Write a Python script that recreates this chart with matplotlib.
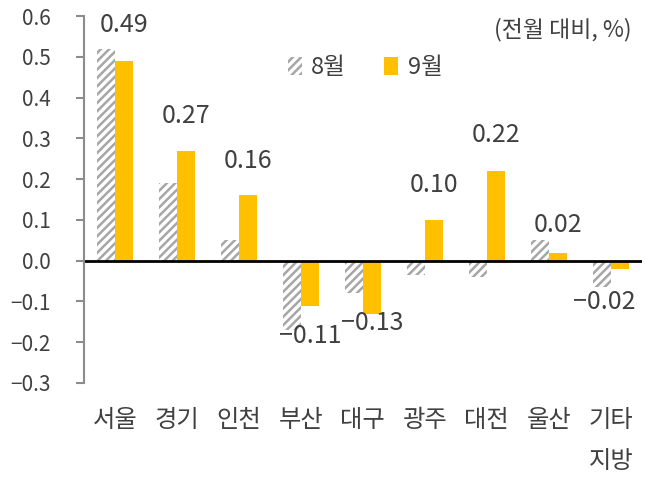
import numpy as np
import matplotlib
matplotlib.use("Agg")
import matplotlib.pyplot as plt
from matplotlib.ticker import FuncFormatter, MultipleLocator

plt.rcParams["font.family"] = ["Noto Sans CJK KR", "DejaVu Sans"]
plt.rcParams["hatch.linewidth"] = 1.8

regions = ["서울", "경기", "인천", "부산", "대구", "광주", "대전", "울산", "기타\n지방"]
aug = [0.52, 0.19, 0.05, -0.17, -0.08, -0.035, -0.04, 0.05, -0.065]
sep = [0.49, 0.27, 0.16, -0.11, -0.13, 0.10, 0.22, 0.02, -0.02]
# label offsets in points (dx, dy)
label_dx = [0, 0, 0, 0, 0, 0, 0, 0, -11]
label_dy = [26, 25, 25, -22, -7, 25, 26, 20, -24]

GRAY, GOLD, TXT = "#a6a6a6", "#ffc000", "#404040"


def fmt(v, nd):
    return f"{v:.{nd}f}".replace("-", "\u2212")


fig = plt.figure(figsize=(6.45, 4.84), dpi=100)
ax = fig.add_axes([0.130, 0.2087, 0.865, 0.758])

x = np.arange(len(regions))
w = 0.29
ax.bar(x - w / 2, aug, w, color="white", edgecolor=GRAY, hatch="////", linewidth=0, label="8월")
ax.bar(x + w / 2, sep, w, color=GOLD, linewidth=0, label="9월")

for xi, v, dx, dy in zip(x, sep, label_dx, label_dy):
    ax.annotate(fmt(v, 2), (xi + w / 2, v), xytext=(dx, dy), textcoords="offset points",
                ha="center", va="center", fontsize=18, color=TXT)

ax.axhline(0, color="black", lw=2)
ax.set_xlim(-0.5, len(regions) - 0.5)
ax.set_ylim(-0.3, 0.6)
ax.yaxis.set_major_locator(MultipleLocator(0.1))
ax.yaxis.set_major_formatter(FuncFormatter(lambda v, _: fmt(round(v, 1) + 0.0, 1)))
ax.set_xticks(x)
ax.set_xticklabels(regions, linespacing=1.75)

for s in ["top", "right", "bottom"]:
    ax.spines[s].set_visible(False)
ax.spines["left"].set_color("#8c8c8c")
ax.spines["left"].set_linewidth(1.5)
ax.tick_params(axis="y", length=6, width=1.5, color="#8c8c8c", pad=18, labelsize=15, labelcolor=TXT)
ax.tick_params(axis="x", length=0, pad=17, labelsize=17.5, labelcolor=TXT)

ax.legend(loc="center", bbox_to_anchor=(0.566, 0.86), bbox_transform=fig.transFigure,
          ncol=2, frameon=False, fontsize=17, handlelength=0.6, handleheight=0.8,
          handletextpad=0.4, columnspacing=1.6, labelcolor=TXT)
fig.text(0.98, 0.938, "(전월 대비, %)", ha="right", va="center", fontsize=16.5, color=TXT)

fig.savefig("out.png", dpi=100)
